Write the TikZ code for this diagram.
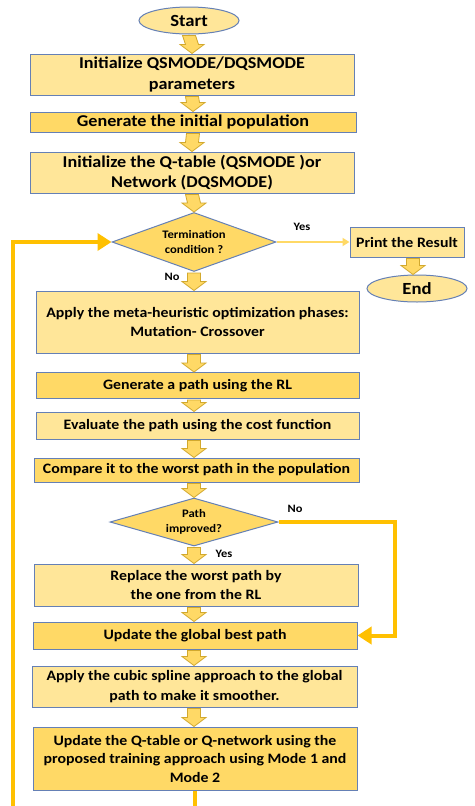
\documentclass[tikz,border=0pt]{standalone}
\usepackage{fontspec}
\setmainfont{Carlito}[FakeStretch=1.1]
\usetikzlibrary{shapes.geometric,arrows.meta,calc}

\definecolor{fillLight}{HTML}{FFE699}
\definecolor{fillDark}{HTML}{FFD966}
\definecolor{edgeBlue}{HTML}{6580B5}
\definecolor{arrowGold}{HTML}{D2A92E}
\definecolor{loopGold}{HTML}{FFC000}
\definecolor{yesGold}{HTML}{FFD966}

\tikzset{
  box/.style={draw=edgeBlue, line width=1pt, rectangle, align=center, inner sep=2pt,
              font=\bfseries\fontsize{14.4}{19.5}\selectfont},
  lightbox/.style={box, fill=fillLight},
  darkbox/.style={box, fill=fillDark},
  bigtext/.style={font=\bfseries\fontsize{16.5}{20.5}\selectfont},
  terminal/.style={draw=edgeBlue, line width=1pt, ellipse, fill=fillLight, inner sep=0pt,
                   font=\bfseries\fontsize{17}{20}\selectfont},
  decision/.style={draw=edgeBlue, line width=1pt, diamond, fill=fillDark, inner sep=0pt,
                   shape aspect=2.8, align=center, font=\bfseries\fontsize{11.5}{15}\selectfont},
  answer/.style={font=\bfseries\fontsize{11.3}{13}\selectfont, inner sep=0pt},
  blockarrow/.style={draw=arrowGold, fill=fillDark, line width=0.8pt, line join=miter,
    to path={($(\tikztostart)+(-6.5,1)$) -- ($(\tikztotarget)+(-6.5,-9)$)
      -- ($(\tikztotarget)+(-12,-9)$) -- (\tikztotarget) -- ($(\tikztotarget)+(12,-9)$)
      -- ($(\tikztotarget)+(6.5,-9)$) -- ($(\tikztostart)+(6.5,1)$) -- cycle}},
  loopline/.style={draw=loopGold, line width=4pt},
  loopHead/.style={-{Triangle[length=14pt,width=17pt]}},
  yesline/.style={draw=yesGold, line width=2.5pt, -{Triangle[length=7pt,width=8pt]}}
}

\begin{document}
\begin{tikzpicture}[x=1pt,y=-1pt]
  \useasboundingbox (0,0) rectangle (474,806);
  \clip (0,0) rectangle (474,806);
  \fill[white] (0,0) rectangle (474,806);

  % main column
  \node[terminal, minimum width=100, minimum height=27] (start) at (189,20.5) {Start};
  \node[lightbox, bigtext, minimum width=324, minimum height=41] (init) at (192,74.5)
    {Initialize QSMODE/DQSMODE\\parameters};
  \node[darkbox, bigtext, minimum width=326, minimum height=20] (pop) at (193,122)
    {Generate the initial population};
  \node[lightbox, bigtext, minimum width=324, minimum height=41] (qtab) at (192,172.5)
    {Initialize the Q-table (QSMODE )or\\Network (DQSMODE)};
  \node[decision, minimum width=164, minimum height=59] (term) at (194,242)
    {Termination\\condition ?};

  % exit branch
  \node[lightbox, minimum width=114, minimum height=30,
        font=\bfseries\fontsize{14.4}{18}\selectfont] (print) at (407,242)
    {Print the Result};
  \node[terminal, minimum width=100, minimum height=27] (end) at (417,288.5) {End};

  \node[lightbox, minimum width=323, minimum height=62] (meta) at (197.5,322)
    {Apply the meta-heuristic optimization phases:\\Mutation- Crossover};
  \node[darkbox, minimum width=323, minimum height=26] (gen) at (197.5,385.5)
    {Generate a path using the RL};
  \node[lightbox, minimum width=323, minimum height=27] (eval) at (197.5,425.5)
    {Evaluate the path using the cost function};
  \node[darkbox, minimum width=325, minimum height=24] (comp) at (196.5,470)
    {Compare it to the worst path in the population};
  \node[decision, minimum width=168, minimum height=48] (impr) at (194,522)
    {Path\\improved?};
  \node[lightbox, minimum width=324, minimum height=42] (repl) at (196,585)
    {Replace the worst path by\\the one from the RL};
  \node[darkbox, minimum width=324, minimum height=27] (best) at (195,635.5)
    {Update the global best path};
  \node[lightbox, minimum width=325, minimum height=41] (spline) at (194.5,686.5)
    {Apply the cubic spline approach to the global\\path to make it smoother.};
  \node[darkbox, minimum width=324, minimum height=63,
        font=\bfseries\fontsize{14.4}{18.5}\selectfont] (upd) at (195,758.5)
    {Update the Q-table or Q-network using the\\proposed training approach using Mode 1 and\\Mode 2};

  % branch labels
  \node[answer] (yesT) at (302,227) {Yes};
  \node[answer] (noT) at (172,277) {No};
  \node[answer] (noP) at (295,509) {No};
  \node[answer] (yesP) at (224,554) {Yes};

  % block arrows between consecutive steps
  \draw[blockarrow] (start.south) to (init.north);
  \draw[blockarrow] (init.south) to (pop.north);
  \draw[blockarrow] (pop.south) to (qtab.north);
  \draw[blockarrow] (qtab.south) to (term.north);
  \draw[blockarrow] (term.south) to (term.south |- meta.north);
  \draw[blockarrow] (term.south |- meta.south) to (term.south |- gen.north);
  \draw[blockarrow] (term.south |- gen.south) to (term.south |- eval.north);
  \draw[blockarrow] (term.south |- eval.south) to (term.south |- comp.north);
  \draw[blockarrow] (term.south |- comp.south) to (impr.north);
  \draw[blockarrow] (impr.south) to (impr.south |- repl.north);
  \draw[blockarrow] (impr.south |- repl.south) to (impr.south |- best.north);
  \draw[blockarrow] (impr.south |- best.south) to (impr.south |- spline.north);
  \draw[blockarrow] (impr.south |- spline.south) to (impr.south |- upd.north);
  \draw[blockarrow] ($(print.south)+(6,0)$) to ($(end.north)+(-4,0)$);

  % termination reached
  \draw[yesline] (term.east) -- (print.west);

  % path not improved: skip the replacement
  \coordinate (skip) at (395,522);
  \draw[loopline, loopHead] (impr.east) -- (skip) |- (best.east);

  % back to the termination test
  \coordinate (below) at (195,830);
  \coordinate (leftrail) at (13,830);
  \draw[loopline, loopHead] (upd.south) -- (below) -- (leftrail) |- (term.west);
\end{tikzpicture}
\end{document}
